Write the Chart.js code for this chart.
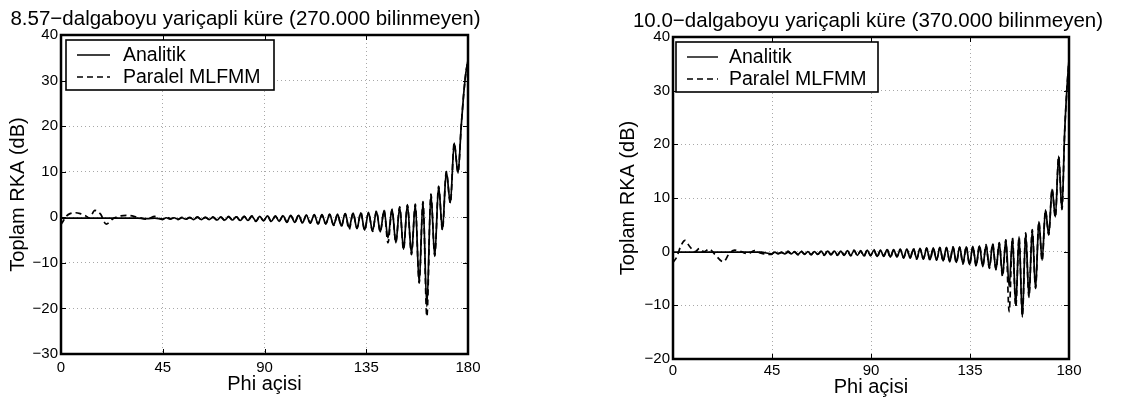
<!DOCTYPE html>
<html lang="tr">
<head>
<meta charset="UTF-8">
<title>Toplam RKA</title>
<style>
    html, body { margin: 0; padding: 0; background: #fff; }
    body { width: 1136px; height: 401px; position: relative; overflow: hidden; }
    .panel { position: absolute; top: 0; height: 401px; }
    #solPanel { left: 0; width: 560px; }
    #sagPanel { left: 568px; width: 568px; }
    canvas { display: block; }
</style>
</head>
<body>
<div class="panel" id="solPanel"><canvas id="solChart"></canvas></div>
<div class="panel" id="sagPanel"><canvas id="sagChart"></canvas></div>

<script src="https://cdn.jsdelivr.net/npm/chart.js@4"></script>
<script>
// --- veriler (resimden okunan tepe / cukur noktalari) ---

// sol: 8.57 dalgaboyu
const phiSol = [0, 1, 2.5, 4, 6.5, 8.5, 11, 12.5, 15, 17.5, 20, 23, 26.5, 29.5, 34, 38, 41.5,
    44.9, 46.6, 48.3, 50.0, 51.8, 53.5, 55.2, 56.9, 58.6, 60.4,
    62.1, 63.8, 65.5, 67.2, 69.0, 70.7, 72.4, 74.1, 75.8, 77.6,
    79.3, 81.0, 82.7, 84.4, 86.2, 87.9, 89.6, 91.3, 93.0, 94.8,
    96.5, 98.2, 99.9, 101.6, 103.4, 105.1, 106.8, 108.5, 110.2, 112.0,
    113.7, 115.4, 117.1, 118.8, 120.6, 122.3, 124.0, 125.7, 127.4, 129.2,
    130.9, 132.6, 134.3, 136.0, 137.8, 139.5, 141.2, 142.9, 144.6, 146.4,
    148.1, 149.8, 151.5, 153.2, 155.0, 156.7, 158.4, 160.1, 161.8, 163.6,
    165.3, 167.0, 168.7, 170.4, 172.2, 173.9, 175.6, 177, 178, 179, 180];
const analitikSol = [-0.2, -0.2, -0.2, -0.2, -0.2, -0.2, -0.2, -0.2, -0.2, -0.2, -0.2, -0.2, -0.2, -0.2, -0.2, -0.3, -0.2,
    -0.4, -0.1, -0.4, -0.1, -0.4, -0.1, -0.4, 0.0, -0.5, 0.0,
    -0.5, 0.0, -0.5, 0.0, -0.6, 0.1, -0.6, 0.1, -0.6, 0.1,
    -0.7, 0.2, -0.7, 0.2, -0.8, 0.2, -0.8, 0.3, -0.9, 0.3,
    -0.9, 0.3, -1.0, 0.4, -1.1, 0.4, -1.2, 0.5, -1.3, 0.5,
    -1.4, 0.6, -1.5, 0.6, -1.7, 0.7, -1.9, 0.8, -2.2, 0.9,
    -2.5, 1.0, -2.8, 1.1, -3.0, 1.3, -3.2, 1.5, -4.5, 1.8,
    -5.6, 2.2, -7.0, 2.8, -8.0, 2.8, -14.4, 3.5, -19.6, 5.0,
    -8.6, 6.8, -2.7, 10.0, 3.2, 16.3, 9.7, 20.0, 26.5, 31.5, 34.5];
const mlfmmSol = [-1.6, -0.8, 0.3, 0.8, 1.0, 0.8, 0.3, -0.2, 1.5, 0.7, -1.5, -0.3, 0.3, 0.4, 0.0, -0.4, 0.2,
    -0.5, 0.1, -0.3, -0.1, -0.5, 0.0, -0.4, -0.1, -0.4, 0.1,
    -0.6, 0.0, -0.4, 0.1, -0.6, 0.0, -0.7, 0.2, -0.5, 0.1,
    -0.8, 0.2, -0.6, 0.3, -0.9, 0.1, -0.7, 0.3, -1.0, 0.2,
    -0.8, 0.4, -1.1, 0.3, -1.0, 0.5, -1.3, 0.4, -1.2, 0.6,
    -1.5, 0.5, -1.4, 0.7, -1.8, 0.6, -2.0, 0.8, -2.7, 0.9,
    -2.4, 1.1, -2.9, 1.0, -3.1, 1.4, -3.2, 1.5, -5.6, 1.7,
    -5.5, 2.3, -7.1, 2.7, -8.2, 2.9, -14.4, 3.4, -21.8, 5.1,
    -8.4, 6.8, -2.8, 10.0, 3.1, 16.3, 9.8, 20.0, 26.5, 31.5, 34.5];

// sag: 10.0 dalgaboyu
const phiSag = [0, 1.7, 3.5, 5.5, 7.5, 10, 12, 14, 16.5, 19, 22.9, 25.5, 28, 31, 34, 37, 40,
    44.8, 46.3, 47.8, 49.3, 50.8, 52.3, 53.8, 55.3, 56.8, 58.3,
    59.8, 61.3, 62.8, 64.3, 65.8, 67.3, 68.8, 70.3, 71.8, 73.3,
    74.8, 76.3, 77.8, 79.3, 80.8, 82.3, 83.8, 85.3, 86.8, 88.3,
    89.8, 91.3, 92.8, 94.3, 95.8, 97.3, 98.8, 100.3, 101.8, 103.3,
    104.8, 106.3, 107.8, 109.3, 110.8, 112.3, 113.8, 115.3, 116.8, 118.3,
    119.8, 121.3, 122.8, 124.3, 125.8, 127.3, 128.8, 130.3, 131.8, 133.3,
    134.8, 136.3, 137.8, 139.3, 140.8, 142.3, 143.8, 145.3, 146.8, 148.3,
    149.8, 151.3, 152.8, 154.3, 155.8, 157.3, 158.8, 160.3, 161.8, 163.3,
    164.8, 166.3, 167.8, 169.3, 170.8, 172.3, 173.8, 175.3, 176.8, 178, 179, 180];
const analitikSag = [-0.1, -0.1, -0.1, -0.1, -0.1, -0.1, -0.1, -0.1, -0.1, -0.1, -0.1, -0.1, -0.1, -0.1, -0.1, -0.1, -0.1,
    -0.4, -0.1, -0.4, -0.1, -0.4, -0.1, -0.4, 0.0, -0.5, 0.0,
    -0.5, 0.0, -0.5, 0.0, -0.5, 0.1, -0.6, 0.1, -0.6, 0.1,
    -0.6, 0.1, -0.7, 0.2, -0.7, 0.2, -0.7, 0.2, -0.8, 0.3,
    -0.8, 0.3, -0.9, 0.3, -0.9, 0.4, -1.0, 0.4, -1.0, 0.4,
    -1.1, 0.5, -1.2, 0.5, -1.3, 0.6, -1.4, 0.6, -1.5, 0.7,
    -1.6, 0.7, -1.7, 0.8, -1.9, 0.8, -2.0, 0.9, -2.2, 0.9,
    -2.4, 1.0, -2.6, 1.1, -2.8, 1.2, -3.0, 1.4, -3.4, 1.6,
    -4.4, 2.2, -6.5, 2.5, -10.0, 2.8, -12.2, 3.4, -8.4, 4.0,
    -6.9, 5.6, -1.6, 7.8, 3.1, 11.6, 6.5, 17.8, 7.8, 22.0, 30.0, 35.8];
const mlfmmSag = [-2.0, -1.0, 1.0, 2.1, 1.0, 0.0, 0.6, 0.0, 0.5, -0.5, -1.9, -0.4, 0.3, 0.0, -0.4, 0.2, -0.3,
    -0.5, 0.0, -0.3, -0.2, -0.5, 0.1, -0.4, -0.1, -0.6, 0.1,
    -0.4, -0.1, -0.6, 0.1, -0.5, 0.0, -0.7, 0.2, -0.5, 0.0,
    -0.7, 0.2, -0.6, 0.1, -0.8, 0.3, -0.7, 0.1, -0.9, 0.3,
    -0.7, 0.4, -1.0, 0.2, -0.8, 0.4, -1.1, 0.3, -0.9, 0.5,
    -1.2, 0.4, -1.1, 0.6, -1.4, 0.5, -1.3, 0.7, -1.6, 0.6,
    -1.5, 0.8, -1.8, 0.7, -1.8, 0.9, -2.1, 0.8, -2.3, 1.0,
    -2.5, 0.9, -2.7, 1.2, -2.7, 1.3, -3.1, 1.5, -3.3, 1.7,
    -4.6, 2.2, -11.2, 2.6, -10.3, 2.7, -12.0, 3.5, -8.5, 4.1,
    -6.8, 5.6, -1.7, 7.7, 3.2, 11.7, 6.4, 17.8, 7.9, 22.0, 30.0, 35.8];

const phiTicks = [0, 45, 90, 135, 180];
const seriAdlari = ['Analitik', 'Paralel MLFMM'];

const yazi = '"Liberation Sans", Arial, Helvetica, sans-serif';
Chart.defaults.font.family = yazi;
Chart.defaults.color = '#000';

// MATLAB tarzi cerceve, ic tikler, baslik ve lejant
const kutuPlugin = {
    id: 'kutu',
    afterDraw(chart, args, o) {
        const { ctx, chartArea: a, scales: { x, y } } = chart;
        ctx.save();
        ctx.strokeStyle = '#000';
        ctx.lineWidth = 1;
        ctx.beginPath();
        x.ticks.forEach(t => {
            const px = Math.round(x.getPixelForValue(t.value)) + 0.5;
            ctx.moveTo(px, a.bottom); ctx.lineTo(px, a.bottom - 5);
            ctx.moveTo(px, a.top); ctx.lineTo(px, a.top + 5);
        });
        y.ticks.forEach(t => {
            const py = Math.round(y.getPixelForValue(t.value)) + 0.5;
            ctx.moveTo(a.left, py); ctx.lineTo(a.left + 5, py);
            ctx.moveTo(a.right, py); ctx.lineTo(a.right - 5, py);
        });
        ctx.stroke();
        ctx.lineWidth = 2.5;
        ctx.strokeRect(a.left, a.top, a.right - a.left, a.bottom - a.top);

        // baslik
        ctx.fillStyle = '#000';
        ctx.font = '20.5px ' + yazi;
        ctx.textAlign = 'center';
        ctx.textBaseline = 'alphabetic';
        ctx.fillText(o.baslik, o.baslikX, o.baslikY);

        // lejant
        const lx = a.left + o.lejantDx, ly = a.top + 5;
        ctx.fillStyle = '#fff';
        ctx.fillRect(lx, ly, o.lejantW, 50);
        ctx.lineWidth = 1.6;
        ctx.strokeRect(lx, ly, o.lejantW, 50);
        chart.data.datasets.forEach((ds, i) => {
            const yy = ly + 15 + i * 22;
            ctx.setLineDash(ds.borderDash || []);
            ctx.lineWidth = 1.4;
            ctx.beginPath();
            ctx.moveTo(lx + 11, yy);
            ctx.lineTo(lx + o.cizgiSon, yy);
            ctx.stroke();
            ctx.setLineDash([]);
            ctx.fillStyle = '#000';
            ctx.font = '19.5px ' + yazi;
            ctx.textAlign = 'left';
            ctx.textBaseline = 'middle';
            ctx.fillText(ds.label, lx + o.yaziDx, yy + 1);
        });
        ctx.restore();
    }
};

function eksi(v) {
    return String(v).replace('-', '\u2212');
}

function noktalar(phi, vals) {
    return phi.map((p, i) => ({ x: p, y: vals[i] }));
}

function grafikCiz(id, ayar) {
    new Chart(document.getElementById(id), {
        type: 'line',
        data: {
            datasets: [{
                label: seriAdlari[0],
                data: noktalar(ayar.phi, ayar.analitik),
                borderColor: '#000',
                borderWidth: 1.7,
                pointRadius: 0,
                cubicInterpolationMode: 'monotone',
                fill: false
            }, {
                label: seriAdlari[1],
                data: noktalar(ayar.phi, ayar.mlfmm),
                borderColor: '#000',
                borderWidth: 1.7,
                borderDash: [6, 4],
                pointRadius: 0,
                cubicInterpolationMode: 'monotone',
                fill: false
            }]
        },
        options: {
            responsive: true,
            maintainAspectRatio: false,
            animation: false,
            layout: { padding: { top: ayar.ust, right: ayar.sag, bottom: 0, left: 0 } },
            plugins: {
                legend: { display: false },
                tooltip: { enabled: false },
                kutu: ayar.kutu
            },
            scales: {
                x: {
                    type: 'linear',
                    min: 0,
                    max: 180,
                    afterBuildTicks: s => { s.ticks = phiTicks.map(v => ({ value: v })); },
                    ticks: { padding: ayar.xPad, font: { size: 15 }, maxRotation: 0, autoSkip: false },
                    grid: { color: '#a8a8a8', lineWidth: 1, drawTicks: false },
                    border: { display: false, dash: [1, 3] },
                    title: { display: true, text: 'Phi açisi', font: { size: 20, lineHeight: 1.2 }, padding: { top: 0, bottom: ayar.xBaslikPad } },
                    afterFit: s => { s.height = ayar.xYukseklik; }
                },
                y: {
                    min: ayar.yMin,
                    max: 40,
                    ticks: { stepSize: 10, padding: 3, font: { size: 15 }, callback: eksi },
                    grid: { color: '#a8a8a8', lineWidth: 1, drawTicks: false },
                    border: { display: false, dash: [1, 3] },
                    title: { display: true, text: 'Toplam RKA (dB)', font: { size: 20, lineHeight: 1.2 }, padding: { top: ayar.yBaslikPad, bottom: 0 } },
                    afterFit: s => { s.width = ayar.yGenislik; }
                }
            }
        },
        plugins: [kutuPlugin]
    });
}

grafikCiz('solChart', {
    phi: phiSol, analitik: analitikSol, mlfmm: mlfmmSol,
    yMin: -30, ust: 35, sag: 92, yGenislik: 61, xYukseklik: 47,
    xPad: 5, xBaslikPad: 5, yBaslikPad: 6,
    kutu: { baslik: '8.57\u2212dalgaboyu yariçapli küre (270.000 bilinmeyen)', baslikX: 245.5, baslikY: 25,
            lejantDx: 5, lejantW: 208, cizgiSon: 44, yaziDx: 57 }
});

grafikCiz('sagChart', {
    phi: phiSag, analitik: analitikSag, mlfmm: mlfmmSag,
    yMin: -20, ust: 37, sag: 67, yGenislik: 105, xYukseklik: 42,
    xPad: 3, xBaslikPad: 2, yBaslikPad: 48,
    kutu: { baslik: '10.0\u2212dalgaboyu yariçapli küre (370.000 bilinmeyen)', baslikX: 300, baslikY: 27,
            lejantDx: 3, lejantW: 202, cizgiSon: 42, yaziDx: 53 }
});
</script>
</body>
</html>
